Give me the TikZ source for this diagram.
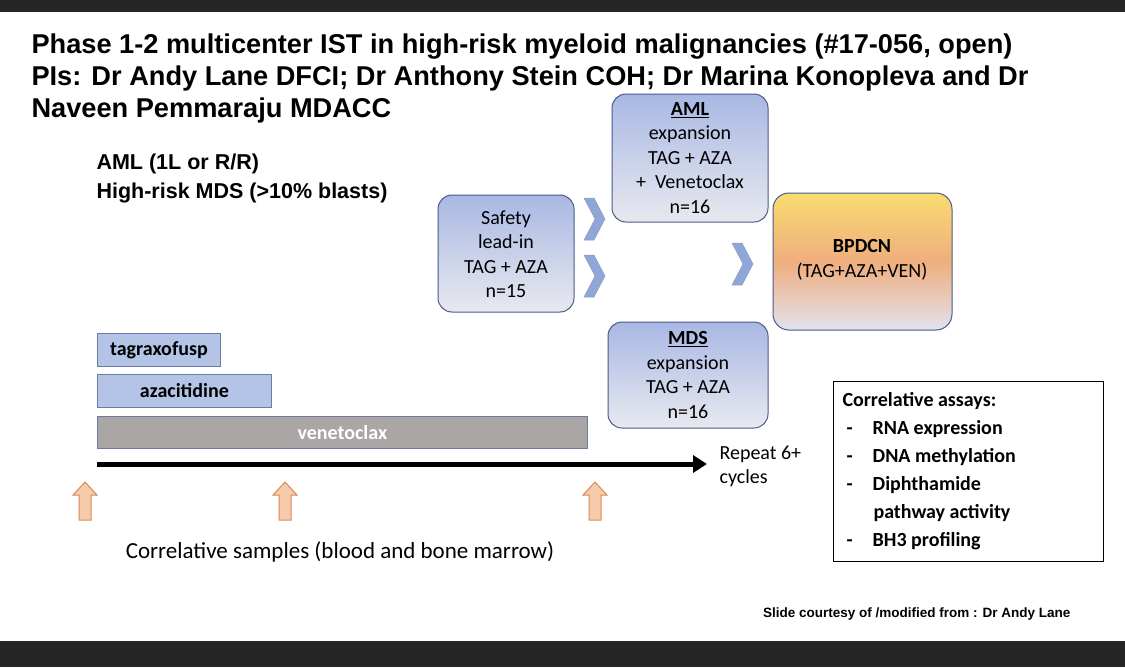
\documentclass[tikz,border=0pt]{standalone}
\usepackage{fontspec}
\setmainfont{Carlito}
\newfontfamily\arial{Liberation Sans}
\usetikzlibrary{arrows.meta}
\definecolor{boxtop}{HTML}{A9B8E4}
\definecolor{boxbot}{HTML}{C9CEE8}
\definecolor{boxdraw}{HTML}{4A5A8A}
\definecolor{chev}{HTML}{8FA6D8}
\definecolor{bar}{HTML}{B4C4E6}
\definecolor{vbar}{HTML}{ABA6A6}
\definecolor{upf}{HTML}{F7CBAA}
\definecolor{upd}{HTML}{D88A5C}
\definecolor{btop}{HTML}{F9DC6F}
\definecolor{bmid}{HTML}{EFAE7E}
\definecolor{bbot}{HTML}{E2E2EE}
\tikzset{
 x=1pt,y=-1pt,
 phase/.style={draw=boxdraw,line width=1pt,rounded corners=14pt,top color=boxtop,bottom color=boxbot!70!gray!30!white},
 ptext/.style={align=center,font=\fontsize{20}{24.5}\selectfont},
 drug/.style={draw=boxdraw!80,line width=0.8pt,fill=bar,font=\bfseries\fontsize{20}{22}\selectfont},
 chevr/.style={fill=chev,draw=boxdraw!60,line width=0.5pt},
 uparr/.style={fill=upf,draw=upd,line width=1pt},
}
\begin{document}
\begin{tikzpicture}
\useasboundingbox (0,0) rectangle (1125,667);
\fill[white] (0,0) rectangle (1125,667);
\fill[black!85] (0,0) rectangle (1125,12);
\fill[black!85] (0,641) rectangle (1125,667);
% title
\node[anchor=west,font=\arial\bfseries\fontsize{27.2}{32}\selectfont,align=left] (title) at (28,78)
 {Phase 1-2 multicenter IST in high-risk myeloid malignancies (\#17-056, open)\\PIs: Dr Andy Lane DFCI; Dr Anthony Stein COH; Dr Marina Konopleva and Dr\\Naveen Pemmaraju MDACC};
\node[anchor=west,font=\arial\bfseries\fontsize{21.5}{29}\selectfont,align=left] (pop) at (93,178)
 {AML (1L or R/R)\\High-risk MDS (>10\% blasts)};
% phase boxes
\path[phase] (438,195) rectangle (574,312);
\node[ptext] (safety) at (506,254) {Safety\\lead-in\\TAG + AZA\\n=15};
\path[phase] (612,94) rectangle (768,222);
\node[ptext] (aml) at (690,158) {\textbf{\underline{AML}}\\expansion\\TAG + AZA\\+\ \ Venetoclax\\n=16};
\path[phase] (608,322) rectangle (768,428);
\node[ptext] (mds) at (688,375) {\textbf{\underline{MDS}}\\expansion\\TAG + AZA\\n=16};
\shade[draw=boxdraw,line width=1pt,rounded corners=16pt,top color=btop,bottom color=bbot,middle color=bmid] (773,193) rectangle (952,330);
\node[ptext] (bpdcn) at (862,260) {\textbf{BPDCN}\\(TAG+AZA+VEN)};
% chevrons
\foreach \cx/\cy in {584/198,584/255,732/243}{
 \path[chevr] (\cx,\cy) -- ++(10,0) -- ++(11,21) -- ++(-11,21) -- ++(-10,0) -- ++(11,-21) -- cycle;
}
% drug bars
\node[drug,minimum width=123pt,minimum height=33pt,anchor=north west] (tag) at (97,333) {tagraxofusp};
\node[drug,minimum width=174pt,minimum height=33pt,anchor=north west] (aza) at (97,374) {azacitidine};
\node[drug,fill=vbar,text=white,minimum width=490pt,minimum height=32pt,anchor=north west] (ven) at (97,416) {venetoclax};
% timeline
\coordinate (t0) at (97,464);
\coordinate (t1) at (707,464);
\draw[line width=5pt,-{Triangle[length=14pt,width=17pt]}] (t0) -- (t1);
\node[anchor=west,align=left,font=\fontsize{20}{24}\selectfont] (rep) at (716,466) {Repeat 6+\\cycles};
% up arrows
\foreach \ax in {85,285,595}{
 \path[uparr] (\ax,482) -- (\ax+12,495) -- (\ax+6,495) -- (\ax+6,520) -- (\ax-6,520) -- (\ax-6,495) -- (\ax-12,495) -- cycle;
}
\node[font=\fontsize{23}{27}\selectfont] (samples) at (340,552) {Correlative samples (blood and bone marrow)};
% correlative assays
\draw[line width=1pt] (833,381) rectangle (1103,561);
\node[anchor=north west,align=left,font=\bfseries\fontsize{20}{28}\selectfont] (assays) at (839,389)
 {Correlative assays:\\
 \hspace{0.2em}-\hspace{1.0em}RNA expression\\
 \hspace{0.2em}-\hspace{1.0em}DNA methylation\\
 \hspace{0.2em}-\hspace{1.0em}Diphthamide\\
 \hspace{1.55em}pathway activity\\
 \hspace{0.2em}-\hspace{1.0em}BH3 profiling};
\node[anchor=east,font=\arial\bfseries\fontsize{13.5}{15}\selectfont] (credit) at (1074,614) {Slide courtesy of /modified from : Dr Andy Lane};
\end{tikzpicture}
\end{document}
